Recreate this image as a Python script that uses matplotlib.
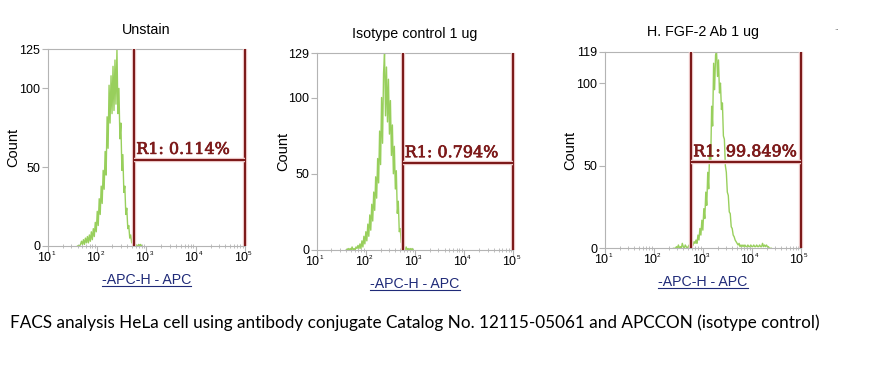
import matplotlib
matplotlib.use("Agg")
import matplotlib.pyplot as plt
import matplotlib.patheffects as pe
from matplotlib.lines import Line2D
from matplotlib.ticker import FixedLocator, LogLocator, NullFormatter
import numpy as np

plt.rcParams['font.family'] = ['Liberation Sans', 'DejaVu Sans']

# ---------------- data ----------------
titles = ["Unstain", "Isotype control 1 ug", "H. FGF-2 Ab 1 ug"]
y_max = [125, 129, 119]
gate_low_log = [2.75, 2.75, 2.76]          # log10 of R1 left edge
gate_level = [54.6, 56.9, 52.0]             # count level of R1 bar
gate_labels = ["R1: 0.114%", "R1: 0.794%", "R1: 99.849%"]
decades = [1, 2, 3, 4, 5]

# channel start (log10) and step for each histogram
hist_start = [1.60, 1.60, 2.40]
hist_step = [0.02, 0.02, 0.02]

counts_unstain = [0, 0, 0, 1, 3, 1, 4, 1, 5, 2, 6, 2, 7, 3, 9, 4, 11, 6, 15, 9,
                  22, 13, 30, 20, 38, 27, 48, 36, 60, 45, 82, 62, 102, 78, 108, 84,
                  114, 86, 118, 90, 125, 84, 100, 68, 78, 48, 58, 34, 38, 20, 24, 11,
                  13, 5, 7, 2, 3, 1, 0, 1, 0, 0, 1, 0, 1, 0]
counts_isotype = [0, 0, 1, 0, 1, 0, 2, 0, 1, 0, 2, 1, 3, 1, 4, 1, 6, 2, 9, 4,
                  12, 6, 17, 9, 23, 13, 30, 19, 38, 26, 48, 34, 60, 44, 78, 56,
                  100, 70, 116, 129, 88, 120, 84, 112, 76, 98, 62, 82, 50, 68, 40,
                  52, 24, 32, 12, 14, 5, 4, 2, 1, 0, 2, 0, 1, 0, 1, 0, 1, 0]
counts_fgf2 = [0, 0, 0, 1, 0, 2, 0, 1, 0, 3, 1, 0, 2, 1, 0, 1, 2, 1, 3, 1,
               2, 4, 3, 5, 3, 8, 5, 12, 8, 17, 11, 24, 18, 34, 26, 46, 36, 62,
               52, 86, 74, 112, 96, 117, 119, 104, 114, 94, 100, 84, 88, 68, 66,
               50, 46, 34, 32, 22, 21, 13, 12, 8, 7, 5, 4, 3, 2, 3, 1, 2, 1, 2, 1,
               2, 1, 1, 2, 1, 1, 2, 1, 1, 2, 1, 1, 2, 1, 1, 2, 1, 1, 3, 1, 2, 1,
               2, 1, 1, 0, 0, 0]
all_counts = [counts_unstain, counts_isotype, counts_fgf2]

x_label = "-APC-H - APC"
y_label = "Count"
caption = ("FACS analysis HeLa cell using antibody conjugate Catalog No. "
           "12115-05061 and APCCON (isotype control)")

# ---------------- layout ----------------
W, H = 876, 365
fig = plt.figure(figsize=(W / 100, H / 100), dpi=100)
fig.patch.set_facecolor("white")

# axes boxes in pixels: left, right, top, bottom
boxes = [(48, 245, 49, 246), (316.7, 513.3, 53.3, 250), (605, 800.7, 51.7, 248.3)]
ylabel_x = [-0.142, -0.136, -0.143]

hist_color = "#98cf5c"
gate_color = "#7d1a1a"
frame_color = "#b4b4b4"
label_blue = "#1f2a78"

xlabels = []
for i in range(3):
    l, r, t, b = boxes[i]
    ax = fig.add_axes([l / W, 1 - b / H, (r - l) / W, (b - t) / H])
    ax.set_xscale("log")
    ax.set_xlim(10, 1e5)
    ax.set_ylim(0, y_max[i])

    cnt = np.array(all_counts[i], dtype=float)
    logs = hist_start[i] + hist_step[i] * np.arange(len(cnt))
    ax.plot(10 ** logs, cnt, color=hist_color, lw=1.0, zorder=2)

    # gate R1
    glo = 10 ** gate_low_log[i]
    halo = [pe.Stroke(linewidth=3.2, foreground="#f7dada"), pe.Normal()]
    for xv in (glo, 1e5):
        ax.plot([xv, xv], [0, y_max[i]], color=gate_color, lw=1.6, zorder=4,
                clip_on=False, path_effects=halo, solid_capstyle="butt")
    ax.plot([glo, 1e5], [gate_level[i], gate_level[i]], color=gate_color, lw=1.6,
            zorder=4, clip_on=False, path_effects=halo, solid_capstyle="butt")
    ax.annotate(gate_labels[i], xy=(glo, gate_level[i]), xytext=(1.5, 1.5),
                textcoords="offset points", ha="left", va="bottom",
                fontsize=11.5, color=gate_color, family="DejaVu Serif",
                zorder=5,
                path_effects=[pe.Stroke(linewidth=0.5, foreground=gate_color), pe.Normal()])

    for s in ax.spines.values():
        s.set_color(frame_color)
        s.set_linewidth(0.8)

    ax.yaxis.set_major_locator(FixedLocator([0, 50, 100, y_max[i]]))
    ax.xaxis.set_major_locator(FixedLocator([10.0 ** d for d in decades]))
    ax.xaxis.set_minor_locator(LogLocator(base=10, subs=np.arange(2, 10)))
    ax.xaxis.set_minor_formatter(NullFormatter())
    ax.xaxis.set_major_formatter(NullFormatter())
    ax.tick_params(axis="both", which="major", colors=frame_color, labelcolor="black",
                   labelsize=9, length=4, width=0.8, direction="out", pad=1.5)
    ax.tick_params(axis="x", which="minor", colors=frame_color, length=3, width=0.6,
                   direction="inout")
    # decade labels "10" with a tiny exponent
    for d in decades:
        ax.annotate("10", xy=(10.0 ** d, 0), xycoords=("data", "axes fraction"),
                    xytext=(2, -4), textcoords="offset points", ha="right", va="top",
                    fontsize=9)
        ax.annotate(str(d), xy=(10.0 ** d, 0), xycoords=("data", "axes fraction"),
                    xytext=(2.2, -3.5), textcoords="offset points", ha="left", va="top",
                    fontsize=4.5)
    ax.set_ylabel(y_label, fontsize=10.5)
    ax.yaxis.set_label_coords(ylabel_x[i], 0.5)
    xl = ax.set_xlabel(x_label, fontsize=10.2, color=label_blue, labelpad=14)
    xlabels.append(xl)

    ax.set_title(titles[i], fontsize=10.3, pad=11)

cap = fig.text(10 / W, 1 - 323 / H, caption, fontsize=12, family="Lato",
               ha="left", va="center", color="black")

# fit caption width & underline the x labels
fig.canvas.draw()
r = fig.canvas.get_renderer()
bb = cap.get_window_extent(r)
target = 807.0
cap.set_fontsize(12 * target / bb.width)
fig.canvas.draw()
for xl in xlabels:
    bb = xl.get_window_extent(r)
    y = bb.y0 + 1
    fig.add_artist(Line2D([bb.x0 / W, bb.x1 / W], [y / H, y / H], color=label_blue,
                          lw=0.8, transform=fig.transFigure))

fig.text(834 / W, 1 - 28 / H, "..", fontsize=6, color="#555555", ha="left", va="center")

fig.savefig("out.png", dpi=100, facecolor="white")
